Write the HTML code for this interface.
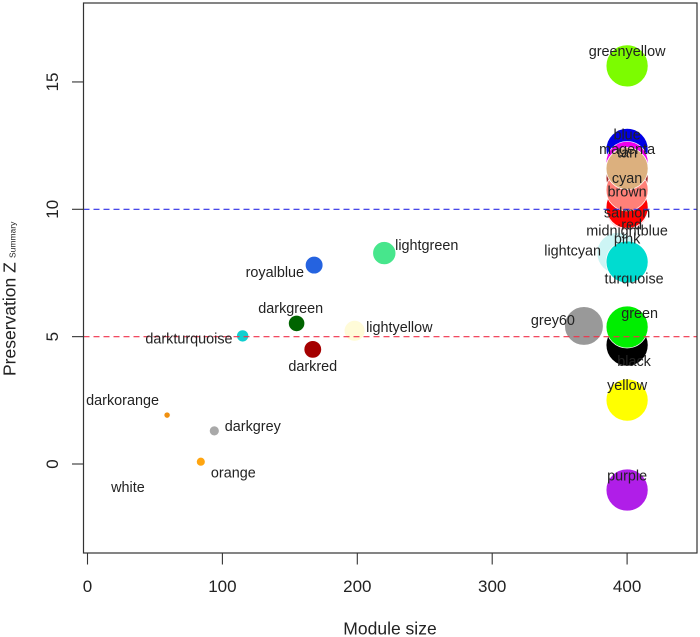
<!DOCTYPE html>
<html>
<head>
<meta charset="utf-8">
<title>Module preservation chart</title>
<style>
html,body{margin:0;padding:0;background:#fff;}
svg{display:block;filter:blur(0.35px);}
text{font-family:"Liberation Sans",Arial,sans-serif;fill:#222;}
</style>
</head>
<body>
<svg id="chart" xmlns="http://www.w3.org/2000/svg" width="700" height="637" viewBox="0 0 700 637">
  <rect x="0" y="0" width="700" height="637" fill="#fff"/>
  <g id="points"></g>
  <g id="refs"></g>
  <g id="labels"></g>
  <rect x="83.5" y="3" width="613.5" height="550" fill="none" stroke="#333" stroke-width="1.2"/>
  <g id="xaxis"></g>
  <g id="yaxis"></g>
  <text x="390" y="634.5" font-size="17.5" text-anchor="middle">Module size</text>
  <text transform="translate(15.7,376) rotate(-90)" font-size="17.5">Preservation Z</text>
  <text transform="translate(15.7,258) rotate(-90)" font-size="8.5">Summary</text>
</svg>
<script>
const moduleNames = ["greenyellow","blue","magenta","cyan","midnightblue","pink","red","brown","salmon","tan","lightcyan","turquoise","black","green","grey60","yellow","purple","lightgreen","royalblue","darkgreen","darkturquoise","darkred","lightyellow","darkorange","darkgrey","orange","white"];
const moduleSizes = [400,400,400,400,400,400,400,400,400,400,393,400,400,400,368,400,400,220,168,155,115,167,198,59,94,84,30];
const zSummary = [15.63,12.35,11.84,11.6,10.08,10.0,10.08,11.23,10.76,11.6,8.28,7.93,4.67,5.38,5.42,2.51,-1.02,8.28,7.81,5.52,5.03,4.5,5.23,1.92,1.3,0.09,-0.95];
const pointColors = ["#7cfc00","#0000e6","#ee00ee","#00e8e8","#191970","#ffc0cb","#ff0000","#a52a2a","#ff8078","#dcb07e","#cdf5f5","#00dcd0","#000000","#00ee00","#999999","#ffff00","#b01ee8","#47e68c","#2563e0","#006400","#10cfd0","#a50000","#fffbd8","#f09010","#a9a9a9","#ffa510","#ffffff"];
const xTicks = [0,100,200,300,400];
const yTicks = [0,5,10,15];
const referenceLevels = [10,5];
const referenceColors = ["#2f2fe6","#f0304a"];

const NS = "http://www.w3.org/2000/svg";
const xScale = v => 87.5 + v * 1.349;
const yScale = v => 464 - v * 25.47;
const radiusFor = s => Math.max(3, s * 0.0525);
const PLOT_LEFT = 83.5, PLOT_RIGHT = 697, PLOT_BOTTOM = 553;

function labelLayout() {
  return {
    greenyellow:[0,-10], blue:[0,-10], magenta:[0,-8.5], cyan:[0,14.5], midnightblue:[0,28],
    pink:[0,34], red:[4.5,22], brown:[0,18.5], salmon:[0,27.5], tan:[0,-11],
    lightcyan:[-45,2.5], turquoise:[7,21.7], black:[7,21], green:[12.5,-9], grey60:[-31,-1],
    yellow:[0,-10], purple:[0,-9.5], lightgreen:[42.5,-3], royalblue:[-39.3,12], darkgreen:[-5.9,-10.3],
    darkturquoise:[-53.7,7.7], darkred:[0,21.7], lightyellow:[44.7,1], darkorange:[-44.5,-10],
    darkgrey:[38.5,0], orange:[32.5,16], white:[0,4]
  };
}

const pointsG = document.getElementById("points");
const labelsG = document.getElementById("labels");
const layout = labelLayout();

moduleNames.forEach((name, i) => {
  const cx = xScale(moduleSizes[i]);
  const cy = yScale(zSummary[i]);
  const c = document.createElementNS(NS, "circle");
  
  
  c.setAttribute("cx", cx);
  c.setAttribute("cy", cy);
  c.setAttribute("r", radiusFor(moduleSizes[i]));
  c.setAttribute("fill", pointColors[i]);
  c.setAttribute("stroke", "#fff");
  c.setAttribute("stroke-width", "0.7");
  pointsG.appendChild(c);

  const off = layout[name];
  const t = document.createElementNS(NS, "text");
  
  
  t.setAttribute("x", cx + off[0]);
  t.setAttribute("y", cy + off[1]);
  t.setAttribute("font-size", "14.4");
  t.setAttribute("text-anchor", "middle");
  t.textContent = name;
  labelsG.appendChild(t);
});

const refsG = document.getElementById("refs");
referenceLevels.forEach((lvl, i) => {
  const l = document.createElementNS(NS, "line");
  
  
  l.setAttribute("x1", PLOT_LEFT);
  l.setAttribute("x2", PLOT_RIGHT);
  l.setAttribute("y1", yScale(lvl));
  l.setAttribute("y2", yScale(lvl));
  l.setAttribute("stroke", referenceColors[i]);
  l.setAttribute("stroke-width", "1.1");
  l.setAttribute("stroke-dasharray", "6 4");
  refsG.appendChild(l);
});

const xG = document.getElementById("xaxis");
xTicks.forEach(v => {
  const x = xScale(v);
  const l = document.createElementNS(NS, "line");
  
  
  l.setAttribute("x1", x);
  l.setAttribute("x2", x);
  l.setAttribute("y1", PLOT_BOTTOM);
  l.setAttribute("y2", 564.5);
  l.setAttribute("stroke", "#333");
  l.setAttribute("stroke-width", "1.1");
  xG.appendChild(l);
  const t = document.createElementNS(NS, "text");
  
  
  t.setAttribute("x", x);
  t.setAttribute("y", 592);
  t.setAttribute("font-size", "17");
  t.setAttribute("text-anchor", "middle");
  t.textContent = v;
  xG.appendChild(t);
});

const yG = document.getElementById("yaxis");
yTicks.forEach(v => {
  const y = yScale(v);
  const l = document.createElementNS(NS, "line");
  
  
  l.setAttribute("x1", 72);
  l.setAttribute("x2", PLOT_LEFT);
  l.setAttribute("y1", y);
  l.setAttribute("y2", y);
  l.setAttribute("stroke", "#333");
  l.setAttribute("stroke-width", "1.1");
  yG.appendChild(l);
  const t = document.createElementNS(NS, "text");
  
  
  t.setAttribute("transform", "translate(57.8," + y + ") rotate(-90)");
  t.setAttribute("font-size", "17");
  t.setAttribute("text-anchor", "middle");
  t.textContent = v;
  yG.appendChild(t);
});
</script>
</body>
</html>
